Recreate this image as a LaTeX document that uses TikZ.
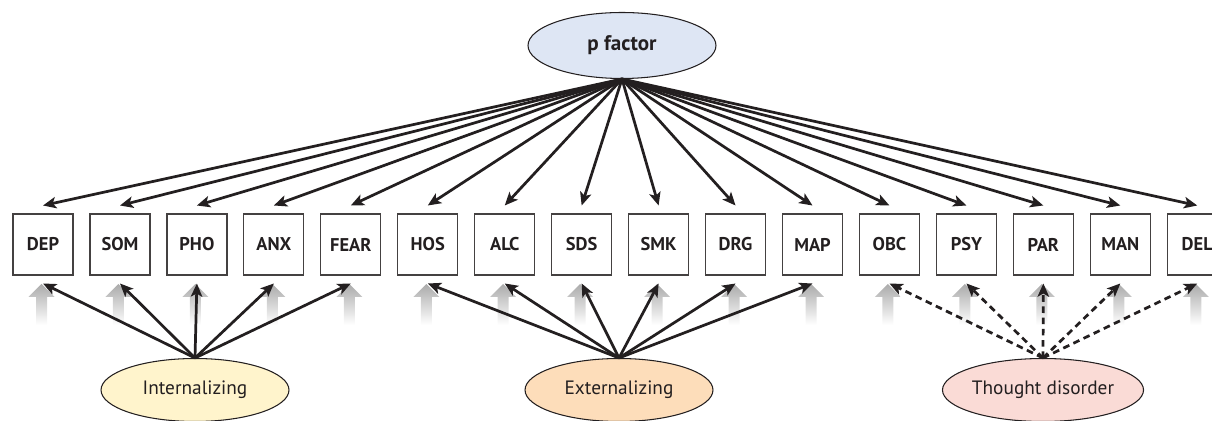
\documentclass[tikz,border=0pt]{standalone}
\usepackage{fontspec}
\setmainfont{PT Sans}
\usetikzlibrary{shapes.geometric,arrows.meta}
\definecolor{txt}{HTML}{231F20}
\definecolor{pfill}{HTML}{DEE6F4}
\definecolor{ifill}{HTML}{FFF4CC}
\definecolor{efill}{HTML}{FDDDBA}
\definecolor{tfill}{HTML}{FADBD6}
\tikzset{
  box/.style={draw=txt!85, line width=0.7pt, minimum width=1.2cm, minimum height=1.22cm,
    inner sep=0pt, outer ysep=0.17cm, font=\bfseries\fontsize{10.5}{12}\selectfont, text=txt},
  factor/.style={ellipse, draw=txt, line width=0.6pt, inner sep=0pt, text=txt},
  arr/.style={draw=txt, line width=1.55pt, -{Stealth[length=7.5pt,width=6.5pt,inset=1.8pt]}},
  darr/.style={arr, dash pattern=on 3.8pt off 2.6pt},
  grayarrow/.style={top color=black!33, bottom color=white, draw=none},
}
\begin{document}
\begin{tikzpicture}[x=0.02cm,y=-0.02cm]
\useasboundingbox (0,0) rectangle (1212,421);
% gray arrows
\foreach \i in {0,...,15}{
  \pgfmathsetmacro{\cx}{41.5+76.95*\i}
  \shade[grayarrow] (\cx-5.5,297) -- (\cx-13,297) -- (\cx,284) -- (\cx+13,297) -- (\cx+5.5,297) -- (\cx+5.5,325) -- (\cx-5.5,325) -- cycle;
}
% boxes
\foreach \n/\t [count=\i from 0] in {dep/DEP,som/SOM,pho/PHO,anx/ANX,fear/FEAR,hos/HOS,alc/ALC,sds/SDS,smk/SMK,drg/DRG,map/MAP,obc/OBC,psy/PSY,par/PAR,man/MAN,del/DEL}
  \node[box] (\n) at ({43+76.95*\i},244.5) {\t};
% factors
\node[factor, fill=pfill, minimum width=3.76cm, minimum height=1.32cm, font=\bfseries\fontsize{12}{14}\selectfont] (pf) at (622,45.5) {p factor};
\node[factor, fill=ifill, minimum width=3.76cm, minimum height=1.26cm, font=\fontsize{11}{13}\selectfont] (int) at (195,390) {Internalizing};
\node[factor, fill=efill, minimum width=3.76cm, minimum height=1.26cm, font=\fontsize{11}{13}\selectfont] (ext) at (619,390) {Externalizing};
\node[factor, fill=tfill, minimum width=3.78cm, minimum height=1.26cm, font=\fontsize{11}{13}\selectfont] (thd) at (1043,390) {Thought disorder};
% p factor loadings
\foreach \n in {dep,som,pho,anx,fear,hos,alc,sds,smk,drg,map,obc,psy,par,man,del}
  \draw[arr] (pf.south) -- (\n.north);
% internalizing
\foreach \n in {dep,som,pho,anx,fear}
  \draw[arr] (int.north) -- (\n.south);
% externalizing
\foreach \n in {hos,alc,sds,smk,drg,map}
  \draw[arr] (ext.north) -- (\n.south);
% thought disorder
\foreach \n in {obc,psy,par,man,del}
  \draw[darr] (thd.north) -- (\n.south);
\end{tikzpicture}
\end{document}
